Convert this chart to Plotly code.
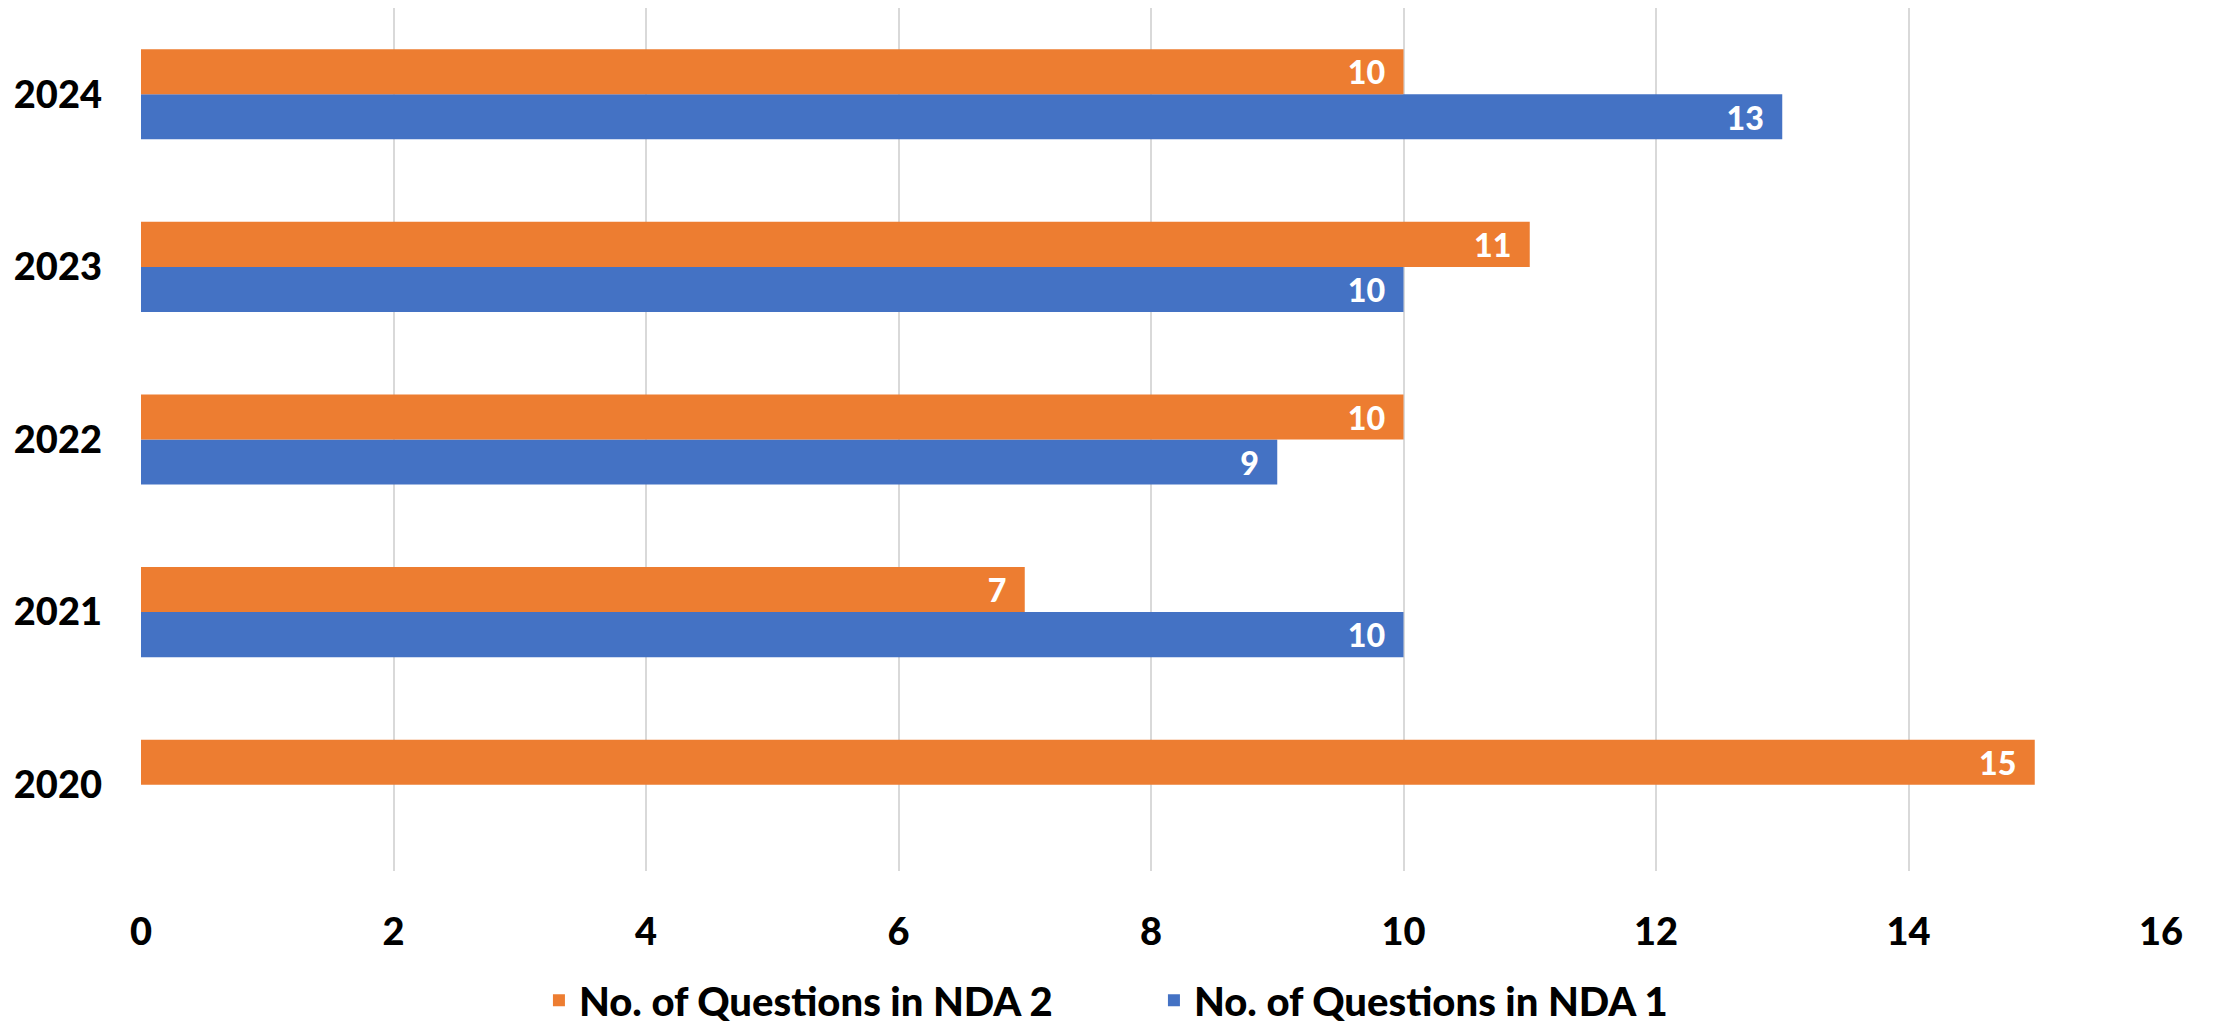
import plotly.graph_objects as go

years = ["2020", "2021", "2022", "2023", "2024"]
nda1 = [None, 10, 9, 10, 13]
nda2 = [15, 7, 10, 11, 10]
x_ticks = [0, 2, 4, 6, 8, 10, 12, 14, 16]

FONT = "Lato"
W = 900
fig = go.Figure()
fig.add_trace(go.Bar(
    y=years, x=nda1, orientation="h", name="No. of Questions in NDA 1",
    marker=dict(color="#4472C4", line=dict(width=0)),
    texttemplate="%{x}\u00a0\u00a0", textposition="inside", insidetextanchor="end", textangle=0,
    textfont=dict(family=FONT, size=33, color="white", weight=W),
    cliponaxis=False,
))
fig.add_trace(go.Bar(
    y=years, x=nda2, orientation="h", name="No. of Questions in NDA 2",
    marker=dict(color="#ED7D31", line=dict(width=0)),
    texttemplate="%{x}\u00a0\u00a0", textposition="inside", insidetextanchor="end", textangle=0,
    textfont=dict(family=FONT, size=33, color="white", weight=W),
    cliponaxis=False,
))

fig.update_layout(
    width=2206, height=1021,
    barmode="group", bargap=0.478, bargroupgap=0,
    plot_bgcolor="white", paper_bgcolor="white",
    margin=dict(l=133, r=53, t=0, b=158, autoexpand=False),
    font=dict(family=FONT, color="black"),
    xaxis=dict(
        range=[0, 16], tickvals=x_ticks, showgrid=True, gridcolor="#d9d9d9", gridwidth=2,
        zeroline=False, showline=False, ticks="", automargin=False,
        tickfont=dict(family=FONT, size=38, color="black", weight=W),
        ticklabelstandoff=35,
    ),
    yaxis=dict(
        type="category", showgrid=False, zeroline=False, showline=False, ticks="", automargin=False,
        tickfont=dict(family=FONT, size=38, color="black", weight=W),
        ticklabelstandoff=38,
    ),
    legend=dict(
        orientation="h", traceorder="reversed", x=0.197, xanchor="left",
        y=-0.112, yanchor="top",
        font=dict(family=FONT, size=40, color="black", weight=W),
        entrywidth=570,
    ),
    showlegend=True,
)
fig.write_html("out.html")
